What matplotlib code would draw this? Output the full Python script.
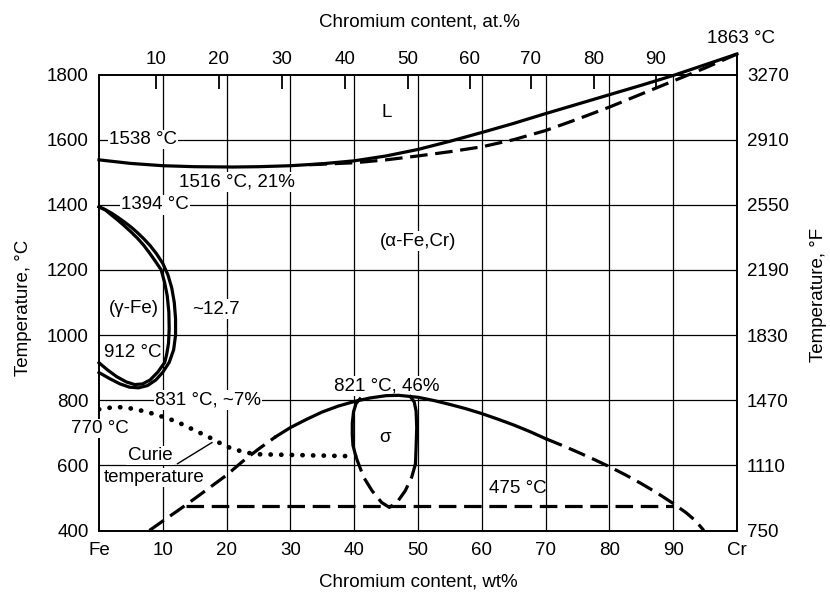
import matplotlib
matplotlib.use("Agg")
import matplotlib.pyplot as plt

plt.rcParams["font.family"] = ["Liberation Sans", "DejaVu Sans"]
plt.rcParams["font.size"] = 13.5

# liquidus (solid) and solidus (dashed), wt% Cr vs °C
liq_wt = [0, 5, 10, 15, 21, 25, 30, 35, 40, 45, 50, 55, 60, 65, 70, 75, 80, 85, 90, 95, 100]
liq_T = [1538, 1527, 1520, 1517, 1516, 1517, 1520, 1526, 1535, 1550, 1570, 1595, 1622,
         1650, 1680, 1709, 1738, 1767, 1797, 1830, 1863]
sol_wt = [33, 40, 45, 50, 55, 60, 65, 70, 75, 80, 85, 90, 95, 100]
sol_T = [1523, 1529, 1538, 1550, 1563, 1578, 1600, 1628, 1663, 1700, 1740, 1780, 1820, 1863]

# gamma loop, outer and inner boundaries
gam_out_wt = [0, 1, 2, 3, 4, 5, 6, 7, 8, 9, 10, 10.8, 11.4, 11.8, 12.0, 12.0, 11.7,
              11.0, 10.0, 8.9, 7.6, 6.2, 4.8, 3.3, 1.7, 0]
gam_out_T = [1394, 1385, 1374, 1361, 1347, 1332, 1315, 1296, 1275, 1250, 1220, 1185,
             1145, 1100, 1050, 1000, 955, 916, 886, 862, 845, 838, 840, 850, 866, 885]
gam_in_wt = [0, 1, 2, 3, 4, 5, 6, 7, 8, 9, 9.75, 10.3, 10.7, 10.95, 11.0, 10.9, 10.6,
             10.3, 9.2, 8.0, 6.8, 5.6, 4.3, 2.8, 1.4, 0]
gam_in_T = [1394, 1384, 1368, 1352, 1335, 1317, 1298, 1276, 1250, 1222, 1200, 1160,
            1120, 1070, 1020, 975, 940, 916, 886, 862, 850, 848, 856, 872, 892, 915]

# Curie temperature (dotted)
curie_wt = [0, 2.4, 4.0, 5.8, 7.9, 10, 12.1, 14.1, 15.7, 17.3, 18.8, 20.4, 22.0, 23.5, 25.1, 30, 35, 40]
curie_T = [772, 779, 778, 772, 762, 749, 735, 716, 701, 686, 670, 655, 645, 638, 634, 632, 630, 628]

# sigma dome: dashed left, solid top, dashed right
dome_l_wt = [7.9, 10, 12.5, 15, 17.5, 20, 22.5, 25, 27.7]
dome_l_T = [400, 429, 463, 498, 534, 570, 612, 650, 688]
dome_wt = [27.7, 30, 32.5, 35, 37.5, 40, 42.5, 45, 47, 50, 52.5, 55, 57.5, 60, 62.5, 65, 67.5, 70]
dome_T = [688, 716, 741, 764, 782, 796, 807, 814, 815, 809, 799, 787, 774, 759, 742, 724, 704, 682]
dome_r_wt = [70, 72.5, 75, 77.5, 80, 82.5, 85, 87.5, 90, 92, 93.5, 94.8]
dome_r_T = [682, 662, 641, 619, 596, 571, 544, 515, 483, 455, 430, 400]

# sigma loop
sig_l_wt = [40.9, 40.3, 39.9, 39.7, 39.7, 39.8, 40.2]
sig_l_T = [804, 790, 765, 730, 695, 662, 632]
sig_b_wt = [40.2, 40.5, 41.5, 42.8, 44.3, 45.5, 46.7, 48.0, 49.0, 49.6]
sig_b_T = [632, 614, 563, 522, 486, 471, 486, 522, 563, 604]
sig_r_wt = [49.6, 49.7, 49.8, 49.7, 49.4, 48.8]
sig_r_T = [604, 655, 716, 767, 795, 811]

# 475 °C line
line475_wt = [13.6, 90]
line475_T = [475, 475]

temp_ticks = [400, 600, 800, 1000, 1200, 1400, 1600, 1800]
temp_F = ["750", "1110", "1470", "1830", "2190", "2550", "2910", "3270"]
wt_ticks = [0, 10, 20, 30, 40, 50, 60, 70, 80, 90, 100]
wt_labels = ["Fe", "10", "20", "30", "40", "50", "60", "70", "80", "90", "Cr"]
at_labels = ["10", "20", "30", "40", "50", "60", "70", "80", "90"]
at_pos = [9.0, 18.8, 28.7, 38.6, 48.4, 58.1, 67.7, 77.6, 87.3]

ymin, ymax = 400, 1863

fig = plt.figure(figsize=(8.3, 6.01), dpi=100)
ax = fig.add_axes([99 / 830, 70.5 / 601, 638 / 830, 476.5 / 601])
ax.set_xlim(0, 100)
ax.set_ylim(ymin, ymax)

# grid drawn by hand so it stops at the 1800 frame
ax.vlines(wt_ticks[1:-1], 400, 1800, color="black", lw=0.9, zorder=1)
ax.hlines(temp_ticks[1:-1], 0, 100, color="black", lw=0.9, zorder=1)

lw = 2.3
dash = (0, (5.5, 2.4))
kw = dict(color="black", lw=lw, zorder=4, clip_on=False)
ax.plot(liq_wt, liq_T, **kw)
ax.plot(sol_wt, sol_T, ls=dash, **kw)
ax.plot(gam_out_wt, gam_out_T, **kw)
ax.plot(gam_in_wt, gam_in_T, **kw)
ax.plot(curie_wt, curie_T, color="black", lw=3.4, ls=(0, (0.05, 2.2)),
        dash_capstyle="round", zorder=4)
ax.plot(dome_l_wt, dome_l_T, ls=dash, **kw)
ax.plot(dome_wt, dome_T, **kw)
ax.plot(dome_r_wt, dome_r_T, ls=dash, **kw)
ax.plot(sig_l_wt, sig_l_T, **kw)
ax.plot(sig_b_wt, sig_b_T, ls=dash, **kw)
ax.plot(sig_r_wt, sig_r_T, **kw)
ax.plot(line475_wt, line475_T, ls=dash, **kw)
# pointer for Curie label
ax.plot([12.3, 17.7], [605, 670], color="black", lw=1, zorder=4)

box = dict(facecolor="white", edgecolor="none", pad=1)
labels = [
    ("1538 °C", 6.9, 1600, True),
    ("1394 °C", 8.8, 1400, True),
    ("1516 °C, 21%", 21.6, 1470, True),
    ("L", 45.1, 1683, False),
    ("(α-Fe,Cr)", 50.0, 1288, True),
    ("(γ-Fe)", 5.4, 1081, False),
    ("~12.7", 18.3, 1080, True),
    ("912 °C", 5.25, 947, False),
    ("831 °C, ~7%", 17.1, 800, True),
    ("770 °C", 0.16, 713, True),
    ("Curie", 8.0, 630, True),
    ("temperature", 8.6, 563, True),
    ("821 °C, 46%", 45.1, 844, True),
    ("σ", 44.8, 685, False),
    ("475 °C", 65.6, 529, False),
    ("1863 °C", 100.6, 1911, False),
]
for txt, x, y, boxed in labels:
    ax.text(x, y, txt, ha="center", va="center", zorder=3,
            bbox=box if boxed else None)

for side in ["top", "right"]:
    ax.spines[side].set_visible(False)
ax.spines["left"].set_bounds(400, 1800)
for side in ["left", "bottom"]:
    ax.spines[side].set_linewidth(1.4)

ax.set_xticks(wt_ticks, labels=wt_labels)
ax.set_yticks(temp_ticks)
ax.tick_params(axis="x", length=0, pad=8)
ax.tick_params(axis="y", length=0, pad=7.5)
ax.set_xlabel("Chromium content, wt%")
ax.xaxis.set_label_coords(0.5, -0.0905)
ax.set_ylabel("Temperature, °C")
ax.yaxis.set_label_coords(-0.1055, 0.468)

# Fahrenheit axis on the right
ax2 = ax.twinx()
ax2.set_ylim(ymin, ymax)
ax2.set_yticks(temp_ticks, labels=temp_F)
ax2.tick_params(axis="y", length=0, pad=7.2)
for side in ["top", "left", "bottom"]:
    ax2.spines[side].set_visible(False)
ax2.spines["right"].set_linewidth(1.4)
ax2.set_ylabel("Temperature, °F")
ax2.yaxis.set_label_coords(1.1144, 0.494)

# at.% axis sitting on the 1800 frame line
frac = (1800 - ymin) / (ymax - ymin)
secax = ax.secondary_xaxis(frac)
secax.set_xticks(at_pos, labels=at_labels)
secax.tick_params(direction="in", length=10, width=1.3, pad=4.5)
secax.spines["top"].set_linewidth(1.4)
fig.text(419 / 830, 1 - 26.7 / 601, "Chromium content, at.%", ha="center", va="baseline")

fig.savefig("out.png", dpi=100)
